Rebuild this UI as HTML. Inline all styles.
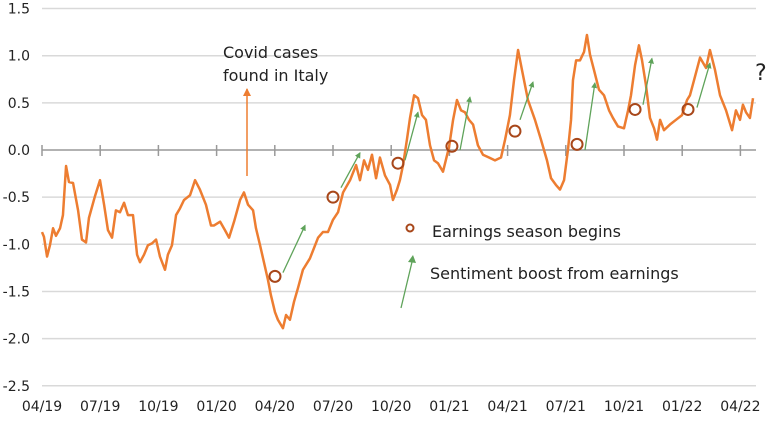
<!DOCTYPE html>
<html><head><meta charset="utf-8"><style>
body{margin:0;background:#fff}
svg text{font-family:"DejaVu Sans","Liberation Sans",sans-serif;fill:#222}
</style></head><body>
<svg id="chart" width="770" height="418" xmlns="http://www.w3.org/2000/svg"></svg>
<script>
const yTicks=[1.5,1.0,0.5,0.0,-0.5,-1.0,-1.5,-2.0,-2.5];
const xTickLabels=["04/19","07/19","10/19","01/20","04/20","07/20","10/20","01/21","04/21","07/21","10/21","01/22","04/22"];
const months=[0,0.1,0.26,0.41,0.57,0.72,0.93,1.08,1.24,1.39,1.6,1.86,2.06,2.27,2.42,2.73,2.99,3.2,3.4,3.61,3.81,4.02,4.23,4.43,4.69,4.9,5.05,5.26,5.46,5.67,5.88,6.08,6.34,6.49,6.7,6.91,7.11,7.32,7.63,7.89,8.14,8.45,8.71,8.87,9.18,9.43,9.64,9.9,10.21,10.41,10.62,10.88,11.03,11.24,11.44,11.65,11.8,12.01,12.16,12.42,12.58,12.78,12.99,13.2,13.45,13.81,14.23,14.48,14.74,15,15.26,15.52,15.88,16.19,16.39,16.6,16.8,17.01,17.22,17.42,17.68,17.94,18.09,18.3,18.45,18.61,18.81,18.97,19.18,19.38,19.59,19.79,20,20.21,20.41,20.67,20.98,21.19,21.39,21.6,21.8,22.01,22.22,22.47,22.73,23.04,23.35,23.66,23.87,24.12,24.33,24.54,24.74,25.05,25.41,25.72,26.03,26.24,26.49,26.7,26.91,27.11,27.27,27.37,27.53,27.73,27.94,28.09,28.25,28.45,28.71,28.97,29.23,29.43,29.69,30,30.21,30.36,30.57,30.77,30.93,31.13,31.34,31.55,31.7,31.86,32.06,32.37,32.68,32.99,33.25,33.4,33.61,33.92,34.23,34.43,34.69,34.95,35.26,35.57,35.77,35.98,36.13,36.29,36.49,36.65];
const values=[-0.87,-0.92,-1.13,-1.01,-0.83,-0.91,-0.83,-0.69,-0.17,-0.34,-0.35,-0.64,-0.95,-0.98,-0.72,-0.49,-0.32,-0.58,-0.85,-0.93,-0.64,-0.66,-0.56,-0.69,-0.69,-1.11,-1.19,-1.11,-1.01,-0.99,-0.95,-1.13,-1.27,-1.11,-1.01,-0.69,-0.62,-0.53,-0.48,-0.32,-0.42,-0.58,-0.8,-0.8,-0.76,-0.85,-0.93,-0.76,-0.53,-0.45,-0.58,-0.64,-0.83,-1.01,-1.19,-1.38,-1.54,-1.72,-1.8,-1.89,-1.75,-1.8,-1.61,-1.46,-1.27,-1.15,-0.93,-0.87,-0.87,-0.74,-0.66,-0.45,-0.32,-0.16,-0.32,-0.11,-0.21,-0.05,-0.3,-0.08,-0.27,-0.37,-0.53,-0.42,-0.32,-0.16,0.11,0.34,0.58,0.55,0.37,0.32,0.05,-0.11,-0.14,-0.23,0.03,0.32,0.53,0.42,0.4,0.32,0.27,0.05,-0.05,-0.08,-0.11,-0.08,0.11,0.37,0.74,1.06,0.85,0.53,0.32,0.11,-0.11,-0.3,-0.37,-0.42,-0.32,0,0.32,0.74,0.95,0.95,1.04,1.22,1.01,0.85,0.64,0.58,0.42,0.34,0.25,0.23,0.42,0.58,0.9,1.11,0.95,0.69,0.34,0.23,0.11,0.32,0.21,0.27,0.32,0.37,0.53,0.58,0.74,0.98,0.87,1.06,0.85,0.58,0.42,0.21,0.42,0.32,0.48,0.4,0.34,0.55];
const earnMonths=[12.01,15.0,18.35,21.13,24.38,27.58,30.57,33.3];
const earnValues=[-1.34,-0.5,-0.14,0.04,0.2,0.06,0.43,0.43];
const arrowStartM=[12.42,15.41,18.71,21.55,24.64,27.99,30.98,33.76];
const arrowStartV=[-1.30,-0.40,-0.11,0.0,0.32,0.0,0.48,0.45];
const arrowEndM=[13.56,16.39,19.38,22.06,25.31,28.5,31.44,34.43];
const arrowEndV=[-0.80,-0.03,0.40,0.56,0.72,0.71,0.97,0.92];

const X0=42,XPM=19.4,Y0=150,YPU=94.3;
const xs=m=>X0+m*XPM, ys=v=>Y0-v*YPU;
const svg=document.getElementById('chart');
const NS='http://www.w3.org/2000/svg';
function mk(t,a,p){const e=document.createElementNS(NS,t);for(const k in a)e.setAttribute(k,a[k]);(p||svg).appendChild(e);return e;}
const defs=mk('defs',{});
const mkr=mk('marker',{id:'ga',markerWidth:'6',markerHeight:'6',refX:'5',refY:'3',orient:'auto',markerUnits:'userSpaceOnUse'},defs);
mk('path',{d:'M0,0 L6,3 L0,6 Z',fill:'#5fa35a'},mkr);
const mko=mk('marker',{id:'oa',markerWidth:'8',markerHeight:'8',refX:'7',refY:'4',orient:'auto',markerUnits:'userSpaceOnUse'},defs);
mk('path',{d:'M0,0 L8,4 L0,8 Z',fill:'#ed7d31'},mko);

yTicks.forEach(v=>{
  if(v!==0){const g=mk('line',{x1:X0,x2:756,y1:ys(v),y2:ys(v),stroke:'#d9d9d9','stroke-width':1.5});
  
  }
  const t=mk('text',{x:30,y:ys(v)+5,'text-anchor':'end','font-size':'14'});
  t.textContent=v.toFixed(1);
  
  
});
const ax=mk('line',{x1:X0,x2:756,y1:Y0,y2:Y0,stroke:'#999','stroke-width':1.5});


xTickLabels.forEach((l,i)=>{
  const x=xs(i*3);
  mk('line',{x1:x,x2:x,y1:Y0-5,y2:Y0+6,stroke:'#999','stroke-width':1.5});
  const t=mk('text',{x:x,y:411,'text-anchor':'middle','font-size':'14'});
  t.textContent=l;
  
  
});
const line=mk('polyline',{points:months.map((m,i)=>xs(m)+','+ys(values[i])).join(' '),fill:'none',stroke:'#ed7d31','stroke-width':2.5,'stroke-linejoin':'round'});


arrowStartM.forEach((m,i)=>{
  const a=mk('line',{x1:xs(m),y1:ys(arrowStartV[i]),x2:xs(arrowEndM[i]),y2:ys(arrowEndV[i]),stroke:'#5fa35a','stroke-width':1.3,'marker-end':'url(#ga)'});
  
  
});
earnMonths.forEach((m,i)=>{
  const c=mk('circle',{cx:xs(m),cy:ys(earnValues[i]),r:5.5,fill:'none',stroke:'#a8471a','stroke-width':2});
  
  
});
const ca=mk('line',{x1:247,y1:176,x2:247,y2:89,stroke:'#ed7d31','stroke-width':1.5,'marker-end':'url(#oa)'});


</script>
<svg style="position:absolute;left:0;top:0" width="770" height="418" xmlns="http://www.w3.org/2000/svg">
<g>
<text x="223" y="58" font-size="16">Covid cases</text>
<text x="223" y="81" font-size="16">found in Italy</text>
</g>
<g>
<circle cx="410" cy="228" r="3.5" fill="none" stroke="#a8471a" stroke-width="2"/>
<text x="432" y="237" font-size="16">Earnings season begins</text>
</g>
<g>
<line x1="401" y1="308" x2="412" y2="262" stroke="#5fa35a" stroke-width="1.3"/>
<path d="M408,262 L413,255 L416,263 Z" fill="#5fa35a"/>
<text x="430" y="279" font-size="16">Sentiment boost from earnings</text>
</g>
<text x="755" y="80" font-size="22">?</text>
</svg>
</body></html>
